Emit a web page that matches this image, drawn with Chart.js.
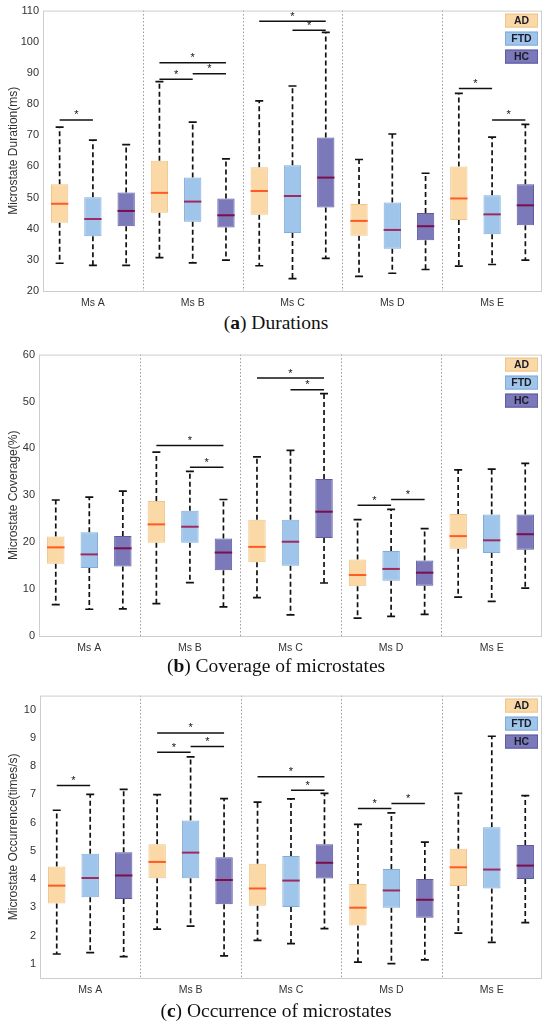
<!DOCTYPE html>
<html>
<head>
<meta charset="utf-8">
<script src="https://cdn.jsdelivr.net/npm/chart.js@4.4.0/dist/chart.umd.min.js"></script>
<style>
  body { margin: 0; background: #fff; width: 550px; height: 1027px; position: relative; overflow: hidden; }
  .panel { position: absolute; left: 0; width: 550px; }
  .cap { position: absolute; left: 0; width: 552px; text-align: center; font-family: "Liberation Serif", serif; font-size: 19.5px; color: #111; line-height: 22px; }
</style>
</head>
<body>
<div class="panel" style="top:0;height:312px"><canvas id="cA"></canvas></div>
<div class="cap" style="top:312px">(<b>a</b>) Durations</div>
<div class="panel" style="top:344px;height:313px"><canvas id="cB"></canvas></div>
<div class="cap" style="top:655px">(<b>b</b>) Coverage of microstates</div>
<div class="panel" style="top:685px;height:314px"><canvas id="cC"></canvas></div>
<div class="cap" style="top:1000px">(<b>c</b>) Occurrence of microstates</div>
<script>
const categories = ["Ms A", "Ms B", "Ms C", "Ms D", "Ms E"];
const groups = ["AD", "FTD", "HC"];
const fillColors = ["#fbd9a6", "#9fc6ea", "#7b79b9"];
const edgeColors = ["#eec58c", "#80acd9", "#5e5ba3"];
const medianColors = ["#ff5a26", "#9e2a5e", "#7a0f4b"];

// each row: [min, q1, median, q3, max] for Ms A..Ms E
const durAD  = [[28.9, 41.9, 48.0, 54.3, 72.6], [30.7, 45.1, 51.5, 61.8, 87.2], [28.1, 44.5, 52.1, 59.7, 81.0], [24.7, 37.7, 42.5, 47.9, 62.2], [28.0, 42.8, 49.7, 60.0, 83.4]];
const durFTD = [[28.2, 37.6, 43.1, 50.1, 68.4], [29.0, 42.2, 48.7, 56.4, 74.2], [24.0, 38.6, 50.5, 60.4, 85.8], [25.7, 33.6, 39.6, 48.4, 70.4], [28.5, 38.2, 44.6, 50.7, 69.4]];
const durHC  = [[28.2, 40.8, 45.7, 51.6, 67.0], [29.9, 40.4, 44.3, 49.7, 62.4], [30.5, 46.8, 56.4, 69.3, 103.0], [26.9, 36.3, 40.8, 45.0, 57.8], [29.9, 41.1, 47.5, 54.3, 73.5]];

const covAD  = [[6.7, 15.4, 18.9, 21.2, 29.0], [6.9, 19.9, 23.8, 28.8, 39.2], [8.2, 15.7, 19.0, 24.8, 38.2], [3.8, 10.6, 13.0, 16.3, 24.8], [8.3, 18.6, 21.3, 26.0, 35.4]];
const covFTD = [[5.7, 14.5, 17.4, 22.1, 29.6], [11.4, 19.9, 23.3, 26.7, 35.1], [4.5, 15.0, 20.1, 24.8, 39.6], [4.2, 11.8, 14.3, 18.1, 27.0], [7.4, 17.7, 20.4, 25.9, 35.6]];
const covHC  = [[5.8, 14.8, 18.7, 21.3, 30.9], [6.2, 14.0, 17.8, 20.8, 29.1], [11.3, 20.9, 26.5, 33.5, 51.7], [4.6, 10.7, 13.5, 16.1, 22.9], [10.2, 18.4, 21.7, 25.9, 36.8]];

const occAD  = [[1.35, 3.14, 3.77, 4.45, 6.44], [2.23, 4.03, 4.61, 5.24, 6.99], [1.83, 3.06, 3.67, 4.55, 6.73], [1.06, 2.36, 2.99, 3.83, 5.94], [2.09, 3.76, 4.42, 5.08, 7.04]];
const occFTD = [[1.40, 3.36, 4.04, 4.90, 7.00], [2.34, 4.03, 4.94, 6.08, 8.33], [1.72, 3.01, 3.95, 4.82, 6.84], [1.01, 2.99, 3.60, 4.36, 6.35], [1.76, 3.67, 4.34, 5.84, 9.06]];
const occHC  = [[1.26, 3.30, 4.13, 4.95, 7.18], [1.28, 3.11, 3.97, 4.78, 6.85], [2.25, 4.02, 4.58, 5.24, 7.04], [1.14, 2.63, 3.27, 4.01, 5.31], [2.46, 4.01, 4.48, 5.21, 6.96]];

// significance bars: [microstate index, from group, to group, y]
const durSig = [[0, 0, 1, 74.9], [1, 0, 1, 88.0], [1, 1, 2, 89.7], [1, 0, 2, 93.3], [2, 0, 2, 106.6], [2, 1, 2, 103.7], [4, 0, 1, 85.0], [4, 1, 2, 74.9]];
const covSig = [[1, 0, 2, 40.6], [1, 1, 2, 36.0], [2, 0, 2, 55.0], [2, 1, 2, 52.5], [3, 0, 1, 27.9], [3, 1, 2, 29.1]];
const occSig = [[0, 0, 1, 7.32], [1, 0, 1, 8.49], [1, 1, 2, 8.70], [1, 0, 2, 9.18], [2, 0, 2, 7.63], [2, 1, 2, 7.15], [3, 0, 1, 6.50], [3, 1, 2, 6.68]];

const durTicks = [20, 30, 40, 50, 60, 70, 80, 90, 100, 110];
const covTicks = [0, 10, 20, 30, 40, 50, 60];
const occTicks = [1, 2, 3, 4, 5, 6, 7, 8, 9, 10];

const boxExtras = {
  id: "boxExtras",
  beforeDatasetsDraw(chart) {
    const { ctx, chartArea: a, scales: { x, y } } = chart;
    const o = chart.options.plugins.boxExtras;
    ctx.save();
    // dotted separators between microstates
    ctx.strokeStyle = "#9a9a9a";
    ctx.lineWidth = 1;
    ctx.setLineDash([1.5, 2]);
    for (let i = 0; i < categories.length - 1; i++) {
      const px = Math.round((x.getPixelForValue(i) + x.getPixelForValue(i + 1)) / 2) + 0.5;
      ctx.beginPath();
      ctx.moveTo(px, a.top);
      ctx.lineTo(px, a.bottom);
      ctx.stroke();
    }
    // whiskers
    ctx.strokeStyle = "#111";
    ctx.lineWidth = 1.7;
    o.stats.forEach((rows, k) => {
      const meta = chart.getDatasetMeta(k);
      rows.forEach((s, i) => {
        const cx = meta.data[i].x;
        ctx.setLineDash([5, 3]);
        ctx.beginPath();
        ctx.moveTo(cx, y.getPixelForValue(s[3]));
        ctx.lineTo(cx, y.getPixelForValue(s[4]));
        ctx.moveTo(cx, y.getPixelForValue(s[1]));
        ctx.lineTo(cx, y.getPixelForValue(s[0]));
        ctx.stroke();
        ctx.setLineDash([]);
        ctx.beginPath();
        [s[0], s[4]].forEach(v => {
          const py = y.getPixelForValue(v);
          ctx.moveTo(cx - 4, py);
          ctx.lineTo(cx + 4, py);
        });
        ctx.stroke();
      });
    });
    ctx.restore();
  },
  afterDatasetsDraw(chart) {
    const { ctx, chartArea: a, scales: { y } } = chart;
    const o = chart.options.plugins.boxExtras;
    ctx.save();
    // medians
    ctx.lineWidth = 2;
    o.stats.forEach((rows, k) => {
      const meta = chart.getDatasetMeta(k);
      ctx.strokeStyle = medianColors[k];
      rows.forEach((s, i) => {
        const bar = meta.data[i];
        const py = y.getPixelForValue(s[2]);
        ctx.beginPath();
        ctx.moveTo(bar.x - bar.width / 2, py);
        ctx.lineTo(bar.x + bar.width / 2, py);
        ctx.stroke();
      });
    });
    // significance bars
    ctx.strokeStyle = "#111";
    ctx.fillStyle = "#111";
    ctx.lineWidth = 1.5;
    ctx.font = "11px 'Liberation Sans', Arial, sans-serif";
    ctx.textAlign = "center";
    ctx.textBaseline = "bottom";
    o.sig.forEach(([i, g1, g2, v]) => {
      const x1 = chart.getDatasetMeta(g1).data[i].x;
      const x2 = chart.getDatasetMeta(g2).data[i].x;
      const py = y.getPixelForValue(v);
      ctx.beginPath();
      ctx.moveTo(x1, py);
      ctx.lineTo(x2, py);
      ctx.stroke();
      ctx.fillText("*", (x1 + x2) / 2, py + 1);
    });
    // frame
    ctx.strokeStyle = "#cdcdcd";
    ctx.lineWidth = 1;
    ctx.strokeRect(a.left + 0.5, a.top + 0.5, a.right - a.left - 1, a.bottom - a.top);
    // legend
    ctx.font = "bold 10.5px 'Liberation Sans', Arial, sans-serif";
    ctx.textBaseline = "middle";
    groups.forEach((g, k) => {
      const bx = a.right - 37, by = a.top + 3 + k * 18;
      ctx.fillStyle = fillColors[k];
      ctx.fillRect(bx, by, 33, 14);
      ctx.strokeStyle = edgeColors[k];
      ctx.strokeRect(bx + 0.5, by + 0.5, 32, 13);
      ctx.fillStyle = "#1a1a2a";
      ctx.fillText(g, bx + 16.5, by + 7.5);
    });
    ctx.restore();
  }
};

function makeChart(id, stats, sig, yMin, yMax, yTicks, yTitle, axisWidth) {
  return new Chart(document.getElementById(id), {
    type: "bar",
    data: {
      labels: categories,
      datasets: groups.map((g, k) => ({
        label: g,
        data: stats[k].map(s => [s[1], s[3]]),
        backgroundColor: fillColors[k],
        borderColor: edgeColors[k],
        borderWidth: 1,
        borderSkipped: false,
        categoryPercentage: 1,
        barPercentage: 0.52,
      })),
    },
    options: {
      responsive: true,
      maintainAspectRatio: false,
      animation: false,
      layout: { padding: { top: 10, right: 8, left: 0, bottom: 0 } },
      scales: {
        x: {
          grid: { display: false, drawTicks: false, tickLength: 0 },
          border: { display: false },
          ticks: { color: "#333", font: { family: "'Liberation Sans', Arial", size: 10.5 }, padding: 6 },
          afterFit: s => { s.height = 21; },
        },
        y: {
          min: yMin,
          max: yMax,
          grid: { display: false, drawTicks: false, tickLength: 0 },
          border: { display: false },
          afterBuildTicks: s => { s.ticks = yTicks.map(v => ({ value: v })); },
          ticks: { color: "#333", font: { family: "'Liberation Sans', Arial", size: 11 }, padding: 4 },
          title: { display: true, text: yTitle, color: "#333", font: { family: "'Liberation Sans', Arial", size: 12 }, padding: { top: 6, bottom: 0 } },
          afterFit: s => { s.width = axisWidth; },
        },
      },
      plugins: {
        legend: { display: false },
        tooltip: { enabled: false },
        boxExtras: { stats: stats, sig: sig },
      },
    },
    plugins: [boxExtras],
  });
}

makeChart("cA", [durAD, durFTD, durHC], durSig, 20, 110, durTicks, "Microstate Duration(ms)", 43);
makeChart("cB", [covAD, covFTD, covHC], covSig, 0, 60, covTicks, "Microstate Coverage(%)", 39);
makeChart("cC", [occAD, occFTD, occHC], occSig, 0.5, 10.5, occTicks, "Microstate Occurrence(times/s)", 40);
</script>
</body>
</html>
